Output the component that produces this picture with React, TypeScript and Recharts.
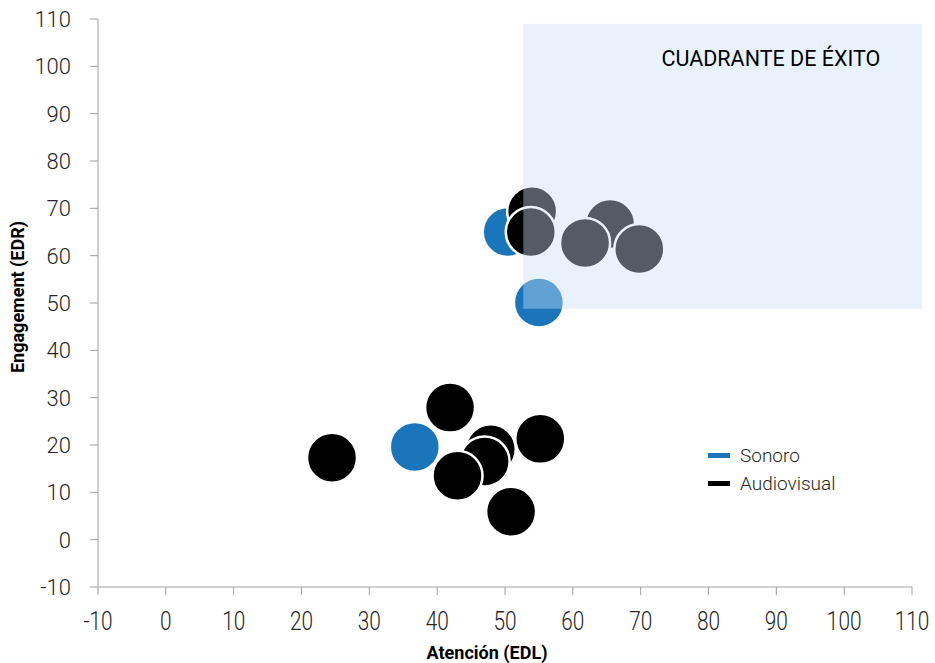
import React from 'react';
import {
  ScatterChart,
  Scatter,
  XAxis,
  YAxis,
  ReferenceArea,
  ReferenceDot,
} from 'recharts';

const sonoroX = [36.7, 50.4, 55.0];
const sonoroY = [19.6, 65.0, 50.1];

const audiovisualX = [24.5, 41.9, 47.9, 47.0, 43.0, 55.2, 50.9, 54.0, 53.8, 65.5, 69.8, 61.8];
const audiovisualY = [17.3, 27.9, 19.1, 16.5, 13.5, 21.3, 5.9, 69.4, 65.0, 66.7, 61.4, 62.7];

const axisTicks = [-10, 0, 10, 20, 30, 40, 50, 60, 70, 80, 90, 100, 110];

const quadrantX = [52.7, 111.5];
const quadrantY = [48.8, 109];
const quadrantLabel = 'CUADRANTE DE ÉXITO';
const quadrantLabelPos = { x: 89.2, y: 101.6 };

const BLUE = '#1B75BB';
const BLACK = '#000000';
const AXIS = '#A0A0A0';
const TEXT = '#262626';
const FONT = 'Roboto, "Noto Sans", sans-serif';

const toPoints = (xs: number[], ys: number[]) => xs.map((x, i) => ({ x, y: ys[i] }));

const sonoro = toPoints(sonoroX, sonoroY);
const audiovisual = toPoints(audiovisualX, audiovisualY);

const bubble = (color: string) => (props: any) => (
  <circle cx={props.cx} cy={props.cy} r={25} fill={color} stroke="#fff" strokeWidth={2.5} />
);

const XTick = ({ x, y, payload }: any) => (
  <text
    transform={`translate(${x},${y + 33}) scale(0.8,1)`}
    textAnchor="middle"
    fontSize={26}
    fontWeight={300}
    fontFamily={FONT}
    fill={TEXT}
  >
    {payload.value}
  </text>
);

const YTick = ({ x, y, payload }: any) => (
  <text
    x={x - 17}
    y={y + 8}
    textAnchor="end"
    fontSize={22}
    fontWeight={300}
    fontFamily={FONT}
    fill={TEXT}
  >
    {payload.value}
  </text>
);

const legendItems = [
  { name: 'Sonoro', color: BLUE },
  { name: 'Audiovisual', color: BLACK },
];

const LegendBox = () => (
  <div
    style={{
      position: 'absolute',
      left: 708,
      top: 441,
      fontFamily: FONT,
      fontSize: 19,
      fontWeight: 300,
      color: TEXT,
    }}
  >
    {legendItems.map((item) => (
      <div key={item.name} style={{ display: 'flex', alignItems: 'center', height: 28 }}>
        <span style={{ width: 22, height: 5, background: item.color, marginRight: 10 }} />
        {item.name}
      </div>
    ))}
  </div>
);

export default function App() {
  return (
    <div style={{ position: 'absolute', left: 0, top: 0, width: 935, height: 663 }}>
      <ScatterChart width={935} height={663} margin={{ top: 19, right: 23, bottom: 0, left: 0 }}>
        <XAxis
          type="number"
          dataKey="x"
          domain={[-10, 110]}
          ticks={axisTicks}
          interval={0}
          stroke={AXIS}
          tickSize={8}
          height={76}
          tick={<XTick />}
          label={() => (
            <text
              x={0}
              y={0}
              textAnchor="middle"
              fontSize={18}
              fontWeight="bold"
              fontFamily={FONT}
              fill="#000"
              transform="translate(487,659)"
            >
              Atención (EDL)
            </text>
          )}
        />
        <YAxis
          type="number"
          dataKey="y"
          domain={[-10, 110]}
          ticks={axisTicks}
          interval={0}
          stroke={AXIS}
          tickSize={8}
          width={98}
          tick={<YTick />}
          label={() => (
            <text
              x={0}
              y={0}
              textAnchor="middle"
              fontSize={18}
              fontWeight="bold"
              fontFamily={FONT}
              fill="#000"
              transform="translate(24,297) rotate(-90)"
            >
              Engagement (EDR)
            </text>
          )}
        />
        <Scatter
          name="Sonoro"
          data={sonoro}
          fill={BLUE}
          shape={bubble(BLUE)}
          isAnimationActive={false}
        />
        <Scatter
          name="Audiovisual"
          data={audiovisual}
          fill={BLACK}
          shape={bubble(BLACK)}
          isAnimationActive={false}
        />
        <ReferenceArea
          x1={quadrantX[0]}
          x2={quadrantX[1]}
          y1={quadrantY[0]}
          y2={quadrantY[1]}
          ifOverflow="visible"
          fill="#CADFF8"
          fillOpacity={0.41}
          stroke="none"
          zIndex={700}
        />
        <ReferenceDot
          x={quadrantLabelPos.x}
          y={quadrantLabelPos.y}
          r={0}
          fill="none"
          stroke="none"
          ifOverflow="visible"
          zIndex={800}
          label={{
            value: quadrantLabel,
            position: 'center',
            fontSize: 21.5,
            fontFamily: FONT,
            fill: '#000',
          }}
        />
      </ScatterChart>
      <LegendBox />
    </div>
  );
}
